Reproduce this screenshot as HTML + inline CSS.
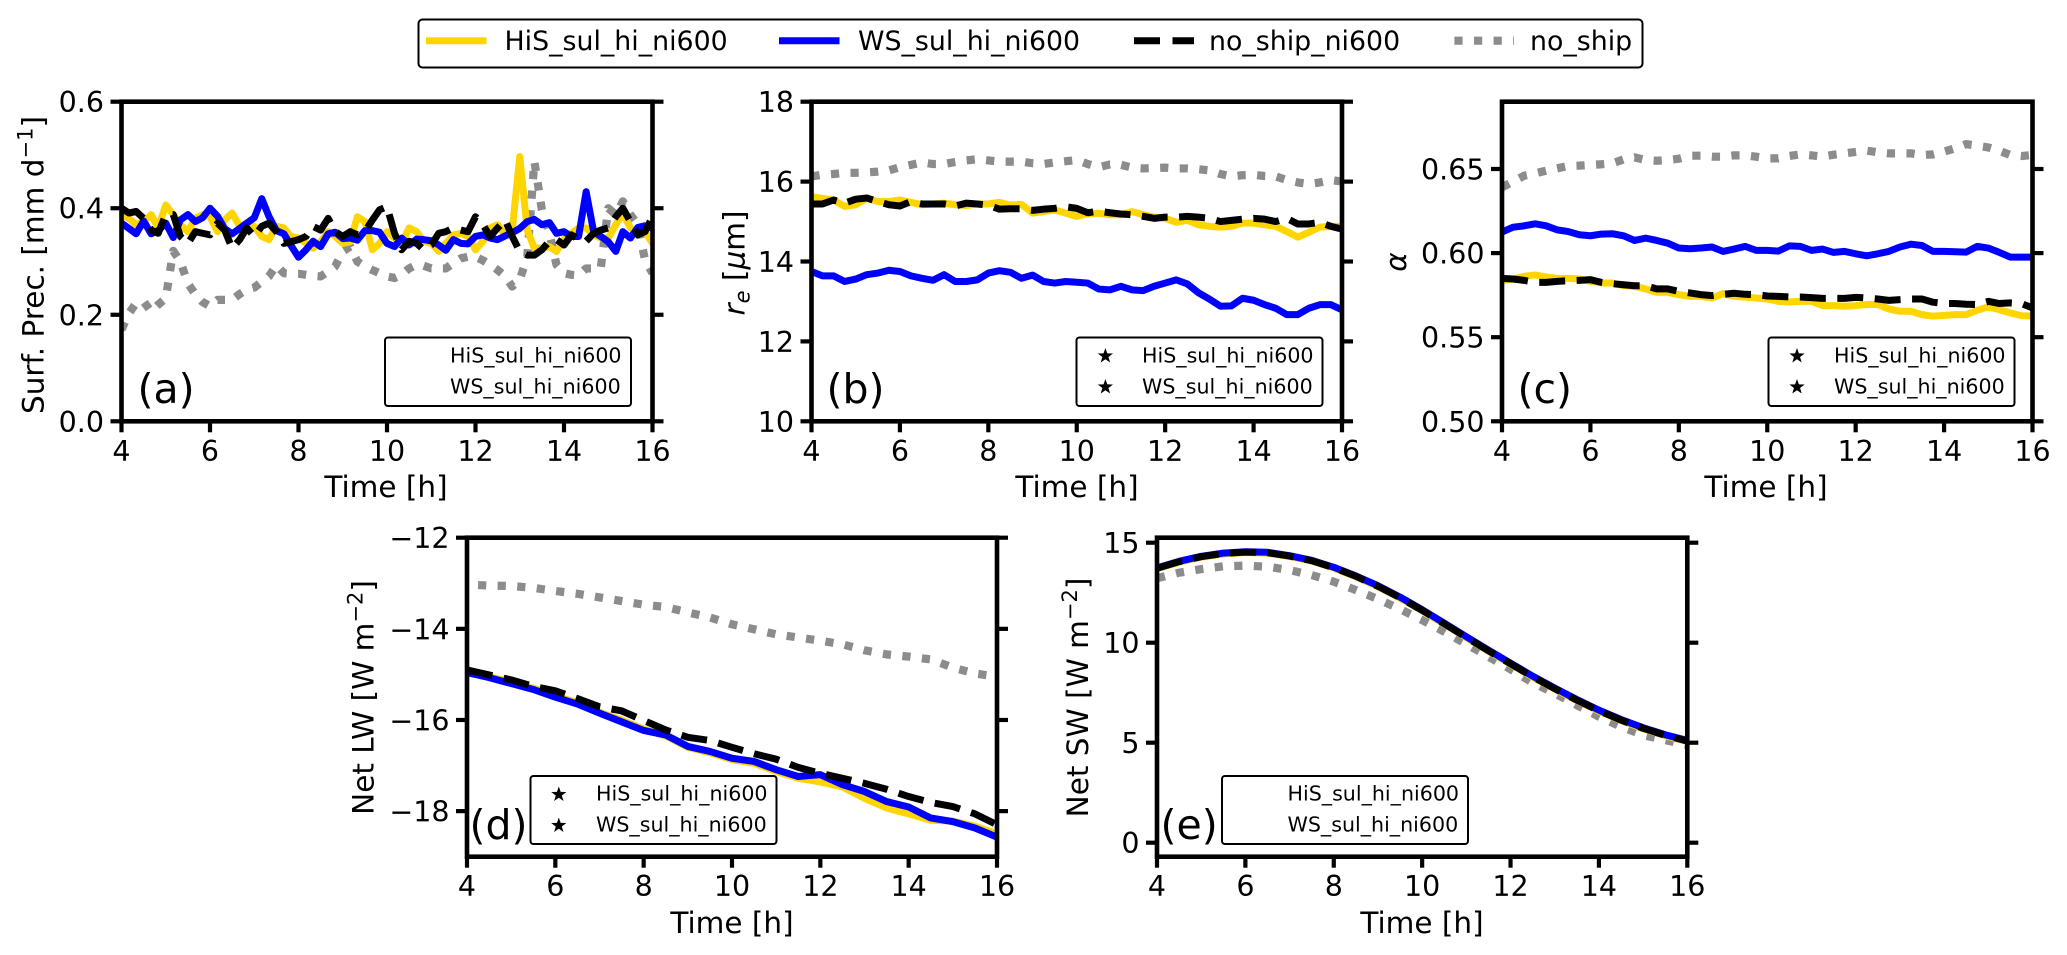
<!DOCTYPE html>
<html lang="en">
<head>
<meta charset="utf-8">
<title>Ship track time series</title>
<style>
html,body{margin:0;padding:0;background:#fff;}
svg{display:block;}
text{font-family:"DejaVu Sans","Liberation Sans",sans-serif;fill:#000;}
.tick{font-size:28.5px;}
.title{font-size:29.5px;}
.mainleg{font-size:26.8px;}
.subleg{font-size:20.6px;}
.letter{font-size:41px;}
.box{fill:#fff;stroke:#000;stroke-width:2;}
</style>
</head>
<body>
<svg id="figure" xmlns="http://www.w3.org/2000/svg" width="2067" height="955" viewBox="0 0 2067 955">
<rect x="0" y="0" width="2067" height="955" fill="#fff"/>
<g id="plots"></g>

<g>
<rect class="box" x="418.5" y="19.5" width="1224" height="48" rx="4"/>
<line x1="426" x2="486.5" y1="40.7" y2="40.7" stroke="#ffd500" stroke-width="7"/>
<text class="mainleg" x="504.5" y="50">HiS_sul_hi_ni600</text>
<line x1="779" x2="839.5" y1="40.7" y2="40.7" stroke="#0000ff" stroke-width="7"/>
<text class="mainleg" x="858" y="50">WS_sul_hi_ni600</text>
<line x1="1134" x2="1194" y1="40.7" y2="40.7" stroke="#000" stroke-width="7" stroke-dasharray="26 12.5"/>
<text class="mainleg" x="1209" y="50">no_ship_ni600</text>
<line x1="1454.4" x2="1514" y1="40.7" y2="40.7" stroke="#8c8c8c" stroke-width="8.2" stroke-dasharray="8.2 11.4"/>
<text class="mainleg" x="1530" y="50">no_ship</text>
</g>

<g>
<text class="title" x="386" y="497" text-anchor="middle">Time [h]</text>
<text class="title" x="1077" y="497" text-anchor="middle">Time [h]</text>
<text class="title" x="1766" y="497" text-anchor="middle">Time [h]</text>
<text class="title" x="732" y="933" text-anchor="middle">Time [h]</text>
<text class="title" x="1422" y="933" text-anchor="middle">Time [h]</text>

<text class="title" transform="translate(43.5 265) rotate(-90)" text-anchor="middle">Surf. Prec. [mm d<tspan dy="-11" font-size="21">−1</tspan><tspan dy="11">]</tspan></text>
<text class="title" transform="translate(744.5 263) rotate(-90)" text-anchor="middle"><tspan font-style="italic">r</tspan><tspan dy="5" font-size="21" font-style="italic">e</tspan><tspan dy="-5"> [</tspan><tspan font-style="italic">μ</tspan>m]</text>
<text class="title" transform="translate(1406 262) rotate(-90)" text-anchor="middle" font-style="italic">α</text>
<text class="title" transform="translate(373.5 697.5) rotate(-90)" text-anchor="middle">Net LW [W m<tspan dy="-11" font-size="21">−2</tspan><tspan dy="11">]</tspan></text>
<text class="title" transform="translate(1088 697.5) rotate(-90)" text-anchor="middle">Net SW [W m<tspan dy="-11" font-size="21">−2</tspan><tspan dy="11">]</tspan></text>
</g>

<g>
<text class="letter" x="137.5" y="403">(a)</text>
<text class="letter" x="826.5" y="403">(b)</text>
<text class="letter" x="1517.5" y="403">(c)</text>
<text class="letter" x="469.5" y="839">(d)</text>
<text class="letter" x="1160.5" y="839">(e)</text>
</g>

<g>
<rect class="box" x="385" y="337.5" width="246" height="68.5" rx="3"/>
<text class="subleg" x="450" y="362.3">HiS_sul_hi_ni600</text>
<text class="subleg" x="450" y="393.3">WS_sul_hi_ni600</text>
</g>
<g>
<rect class="box" x="1076.5" y="337.5" width="246" height="68.5" rx="3"/>
<polygon transform="translate(1105.4 356)" points="0,-8 1.88,-2.59 7.61,-2.47 3.04,1 4.7,6.47 0,3.2 -4.7,6.47 -3.04,1 -7.61,-2.47 -1.88,-2.59"/>
<polygon transform="translate(1105.4 387)" points="0,-8 1.88,-2.59 7.61,-2.47 3.04,1 4.7,6.47 0,3.2 -4.7,6.47 -3.04,1 -7.61,-2.47 -1.88,-2.59"/>
<text class="subleg" x="1142" y="362.3">HiS_sul_hi_ni600</text>
<text class="subleg" x="1142" y="393.3">WS_sul_hi_ni600</text>
</g>
<g>
<rect class="box" x="1768.5" y="337.5" width="246" height="68.5" rx="3"/>
<polygon transform="translate(1797 356)" points="0,-8 1.88,-2.59 7.61,-2.47 3.04,1 4.7,6.47 0,3.2 -4.7,6.47 -3.04,1 -7.61,-2.47 -1.88,-2.59"/>
<polygon transform="translate(1797 387)" points="0,-8 1.88,-2.59 7.61,-2.47 3.04,1 4.7,6.47 0,3.2 -4.7,6.47 -3.04,1 -7.61,-2.47 -1.88,-2.59"/>
<text class="subleg" x="1834" y="362.3">HiS_sul_hi_ni600</text>
<text class="subleg" x="1834" y="393.3">WS_sul_hi_ni600</text>
</g>
<g>
<rect class="box" x="530.5" y="776" width="246" height="68" rx="3"/>
<polygon transform="translate(558.8 794.5)" points="0,-8 1.88,-2.59 7.61,-2.47 3.04,1 4.7,6.47 0,3.2 -4.7,6.47 -3.04,1 -7.61,-2.47 -1.88,-2.59"/>
<polygon transform="translate(558.8 825.5)" points="0,-8 1.88,-2.59 7.61,-2.47 3.04,1 4.7,6.47 0,3.2 -4.7,6.47 -3.04,1 -7.61,-2.47 -1.88,-2.59"/>
<text class="subleg" x="596" y="800.5">HiS_sul_hi_ni600</text>
<text class="subleg" x="596" y="831.5">WS_sul_hi_ni600</text>
</g>
<g>
<rect class="box" x="1222" y="776" width="246" height="68" rx="3"/>
<text class="subleg" x="1287.5" y="800.5">HiS_sul_hi_ni600</text>
<text class="subleg" x="1287.5" y="831.5">WS_sul_hi_ni600</text>
</g>
</svg>

<script>
// Shared time grids (hours)
const timesSixth = [4,4.17,4.33,4.5,4.67,4.83,5,5.17,5.33,5.5,5.67,5.83,6,6.17,6.33,6.5,6.67,6.83,7,7.17,7.33,7.5,7.67,7.83,8,8.17,8.33,8.5,8.67,8.83,9,9.17,9.33,9.5,9.67,9.83,10,10.17,10.33,10.5,10.67,10.83,11,11.17,11.33,11.5,11.67,11.83,12,12.17,12.33,12.5,12.67,12.83,13,13.17,13.33,13.5,13.67,13.83,14,14.17,14.33,14.5,14.67,14.83,15,15.17,15.33,15.5,15.67,15.83,16];
const timesQuarter = [4,4.25,4.5,4.75,5,5.25,5.5,5.75,6,6.25,6.5,6.75,7,7.25,7.5,7.75,8,8.25,8.5,8.75,9,9.25,9.5,9.75,10,10.25,10.5,10.75,11,11.25,11.5,11.75,12,12.25,12.5,12.75,13,13.25,13.5,13.75,14,14.25,14.5,14.75,15,15.25,15.5,15.75,16];
const timesHalf = [4,4.5,5,5.5,6,6.5,7,7.5,8,8.5,9,9.5,10,10.5,11,11.5,12,12.5,13,13.5,14,14.5,15,15.5,16];
const timesHalfLate = [4.25,4.5,5,5.5,6,6.5,7,7.5,8,8.5,9,9.5,10,10.5,11,11.5,12,12.5,13,13.5,14,14.5,15,15.5,16];

// Tick values and labels
const xTickValues = [4,6,8,10,12,14,16];
const xTickLabels = ["4","6","8","10","12","14","16"];
const yTicksA = [0,0.2,0.4,0.6];
const yLabelsA = ["0.0","0.2","0.4","0.6"];
const yTicksB = [10,12,14,16,18];
const yLabelsB = ["10","12","14","16","18"];
const yTicksC = [0.5,0.55,0.6,0.65];
const yLabelsC = ["0.50","0.55","0.60","0.65"];
const yTicksD = [-18,-16,-14,-12];
const yLabelsD = ["−18","−16","−14","−12"];
const yTicksE = [0,5,10,15];
const yLabelsE = ["0","5","10","15"];

// Panel (a) Surface precipitation
const hisA = [.388,.381,.369,.375,.388,.363,.406,.388,.369,.356,.381,.388,.384,.356,.378,.391,.366,.372,.366,.347,.341,.366,.363,.347,.344,.334,.325,.337,.356,.347,.334,.337,.384,.375,.322,.334,
.356,.344,.334,.363,.356,.338,.334,.319,.334,.35,.353,.347,.322,.338,.363,.369,.35,.359,.497,.359,.325,.325,.328,.319,.341,.353,.363,.363,.35,.344,.344,.369,.391,.363,.353,.356,.334];
const wsA = [.372,.362,.352,.376,.352,.358,.372,.345,.378,.388,.375,.382,.40,.385,.362,.352,.362,.372,.382,.418,.385,.358,.352,.33,.308,.322,.338,.328,.352,.355,.343,.344,.34,.358,.358,.355,
.334,.328,.344,.331,.342,.341,.339,.331,.321,.341,.334,.333,.347,.35,.344,.341,.348,.354,.362,.375,.379,.369,.373,.353,.356,.347,.347,.431,.356,.347,.337,.319,.356,.344,.364,.367,.362];
const noShipNiA = [.40,.391,.394,.381,.359,.353,.388,.388,.347,.334,.356,.353,.35,.372,.359,.325,.341,.363,.347,.366,.372,.356,.334,.337,.341,.347,.366,.359,.381,.356,.347,.356,.35,.356,.378,.397,
.403,.353,.322,.338,.334,.322,.331,.353,.356,.363,.359,.356,.384,.369,.347,.363,.378,.347,.319,.312,.312,.322,.338,.341,.331,.35,.341,.338,.353,.359,.363,.384,.40,.375,.35,.356,.384];
const noShipA = [.172,.203,.222,.225,.206,.219,.231,.32,.30,.259,.238,.224,.216,.228,.228,.228,.239,.247,.251,.262,.272,.293,.278,.277,.277,.275,.273,.272,.281,.291,.319,.328,.30,.291,.284,.278,
.272,.269,.275,.287,.294,.292,.287,.287,.287,.297,.306,.309,.309,.302,.294,.284,.272,.253,.266,.309,.488,.397,.353,.294,.278,.275,.274,.287,.287,.287,.40,.388,.413,.388,.369,.303,.278];

// Panel (b) Effective radius
const hisB = [15.62,15.58,15.54,15.38,15.42,15.58,15.5,15.5,15.54,15.48,15.42,15.44,15.46,15.42,15.4,15.44,15.44,15.48,15.41,15.43,15.21,15.25,15.29,15.21,15.13,15.19,15.21,15.17,15.17,15.25,15.17,15.11,15.08,14.98,15.03,14.92,14.88,14.86,14.88,14.96,14.96,14.92,14.88,14.75,14.61,14.73,14.86,14.88,14.88];
const wsB = [13.75,13.64,13.64,13.5,13.56,13.67,13.71,13.78,13.75,13.64,13.58,13.53,13.67,13.5,13.5,13.54,13.71,13.77,13.73,13.58,13.66,13.5,13.46,13.5,13.48,13.46,13.31,13.29,13.38,13.29,13.27,13.38,13.46,13.54,13.44,13.22,13.06,12.88,12.89,13.08,13.03,12.92,12.83,12.67,12.67,12.83,12.92,12.92,12.79];
const noShipNiB = [15.44,15.44,15.54,15.46,15.56,15.59,15.5,15.42,15.39,15.5,15.44,15.44,15.44,15.39,15.46,15.44,15.41,15.31,15.32,15.32,15.28,15.31,15.33,15.37,15.33,15.22,15.26,15.22,15.19,15.17,15.13,15.08,15.11,15.11,15.13,15.11,15.08,15,15.03,15.06,15.08,15.06,15,15.08,14.94,14.94,14.98,14.88,14.81];
const noShipB = [16.13,16.17,16.19,16.22,16.22,16.23,16.25,16.28,16.36,16.42,16.48,16.44,16.44,16.49,16.53,16.56,16.53,16.5,16.5,16.5,16.46,16.44,16.48,16.51,16.54,16.44,16.36,16.43,16.42,16.35,16.33,16.34,16.35,16.33,16.33,16.31,16.28,16.19,16.13,16.16,16.17,16.14,16.13,16.04,15.98,15.94,15.98,16.04,16];

// Panel (c) Albedo
const hisC = [.5838,.5846,.5862,.587,.5858,.585,.585,.5846,.5832,.5822,.5822,.5806,.5802,.5787,.5767,.5767,.5753,.5743,.5743,.5733,.5759,.5743,.5739,.5733,.5727,.5713,.5709,.5713,.5713,.5688,.5688,.5684,.5688,.5694,.5694,.5668,.5654,.5654,.5634,.5625,.563,.5634,.5634,.566,.568,.5664,.5644,.5628,.5625];
const wsC = [.6125,.6154,.6162,.6174,.6162,.6138,.6128,.6109,.6103,.6113,.6115,.6103,.6075,.6089,.6075,.6059,.603,.6026,.603,.6036,.601,.6024,.604,.6016,.6016,.6012,.6043,.604,.6016,.6024,.6004,.601,.5996,.5984,.5996,.601,.6036,.6053,.6045,.601,.601,.6008,.6006,.604,.603,.6004,.5976,.5976,.5976];
const noShipNiC = [.585,.5846,.5838,.5826,.5826,.5832,.5836,.5838,.5842,.5826,.5818,.5812,.5806,.5806,.5787,.5787,.5773,.5763,.5753,.5747,.5755,.5761,.5755,.5753,.5745,.5743,.5739,.5739,.5735,.5731,.5731,.5731,.5737,.5733,.5727,.5719,.5723,.5727,.5727,.5708,.57,.57,.5696,.5694,.5713,.57,.5704,.57,.5674];
const noShipC = [.6391,.6425,.646,.6474,.649,.6504,.6518,.652,.6524,.6528,.6534,.6557,.6569,.6553,.6549,.6553,.6561,.6579,.6579,.6573,.6573,.6581,.6581,.6573,.6563,.6563,.6577,.6587,.6581,.6573,.6585,.6593,.6601,.6609,.6599,.6593,.6593,.6593,.6583,.6587,.6603,.6623,.6648,.6638,.6628,.6609,.6583,.6577,.6583];

// Panel (d) Net longwave
const hisD = [-14.97,-15.05,-15.17,-15.3,-15.48,-15.62,-15.83,-16,-16.2,-16.35,-16.6,-16.72,-16.87,-16.95,-17.13,-17.28,-17.36,-17.47,-17.72,-17.93,-18.06,-18.2,-18.22,-18.33,-18.5];
const wsD = [-14.96,-15.07,-15.2,-15.33,-15.5,-15.65,-15.85,-16.04,-16.23,-16.33,-16.58,-16.69,-16.84,-16.91,-17.09,-17.24,-17.2,-17.42,-17.57,-17.79,-17.91,-18.15,-18.23,-18.37,-18.57];
const noShipNiD = [-14.9,-15.01,-15.12,-15.26,-15.36,-15.53,-15.71,-15.8,-16.01,-16.22,-16.38,-16.45,-16.6,-16.74,-16.86,-17.04,-17.17,-17.28,-17.39,-17.52,-17.68,-17.81,-17.9,-18.06,-18.3];
const noShipD = [-13.04,-13.05,-13.06,-13.1,-13.17,-13.23,-13.31,-13.39,-13.47,-13.52,-13.64,-13.75,-13.9,-14.01,-14.12,-14.19,-14.26,-14.34,-14.47,-14.56,-14.61,-14.67,-14.85,-14.98,-15.05];

// Panel (e) Net shortwave
const hisE = [13.7,14.03,14.28,14.44,14.51,14.48,14.31,14.08,13.73,13.3,12.8,12.23,11.6,10.93,10.25,9.58,8.93,8.28,7.68,7.11,6.58,6.11,5.7,5.35,5.06];
const wsE = [13.74,14.07,14.32,14.48,14.55,14.52,14.35,14.12,13.77,13.34,12.85,12.28,11.65,10.98,10.3,9.63,8.98,8.33,7.73,7.16,6.63,6.16,5.75,5.4,5.11];
const noShipNiE = [13.72,14.05,14.3,14.46,14.53,14.5,14.33,14.1,13.75,13.32,12.82,12.25,11.62,10.95,10.27,9.6,8.95,8.3,7.7,7.13,6.6,6.13,5.72,5.37,5.08];
const noShipE = [13.22,13.5,13.68,13.82,13.85,13.8,13.63,13.38,13.05,12.63,12.18,11.68,11.13,10.55,9.93,9.3,8.67,8,7.47,6.88,6.3,5.8,5.38,5.13,4.88];

const NS = 'http://www.w3.org/2000/svg';
const plots = document.getElementById('plots');

function make(tag, parent) {
  const node = document.createElementNS(NS, tag);
  parent.appendChild(node);
  return node;
}

function makeAxes(id, box, xDomain, yDomain, yTicks, yLabels) {
  const g = make('g', plots);
  
  
  const clip = make('clipPath', g);
  clip.setAttribute('id', 'clip-' + id);
  const clipRect = make('rect', clip);
  clipRect.setAttribute('x', box.left);
  clipRect.setAttribute('y', box.top);
  clipRect.setAttribute('width', box.right - box.left);
  clipRect.setAttribute('height', box.bottom - box.top);
  const layer = make('g', g);
  layer.setAttribute('clip-path', 'url(#clip-' + id + ')');
  
  
  const xScale = v => box.left + (v - xDomain[0]) / (xDomain[1] - xDomain[0]) * (box.right - box.left);
  const yScale = v => box.bottom - (v - yDomain[0]) / (yDomain[1] - yDomain[0]) * (box.bottom - box.top);
  return { id, g, layer, box, xScale, yScale, yTicks, yLabels };
}

function drawSeries(axes, name, times, values, color, width, dash) {
  const path = make('path', axes.layer);
  let d = '';
  const n = Math.min(times.length, values.length);
  for (let i = 0; i < n; i++) {
    d += (i ? 'L' : 'M') + axes.xScale(times[i]).toFixed(2) + ' ' + axes.yScale(values[i]).toFixed(2);
  }
  path.setAttribute('d', d);
  path.setAttribute('fill', 'none');
  path.setAttribute('stroke', color);
  path.setAttribute('stroke-width', width);
  path.setAttribute('stroke-linejoin', 'round');
  if (dash) path.setAttribute('stroke-dasharray', dash);
  
  
}

function drawAll(axes, times, his, ws, noShipNi, noShip, grayTimes) {
  drawSeries(axes, 'no-ship', grayTimes || times, noShip, '#8c8c8c', 8.2, '8.2 11.4');
  drawSeries(axes, 'his-sul-hi-ni600', times, his, '#ffd500', 7);
  drawSeries(axes, 'ws-sul-hi-ni600', times, ws, '#0000ff', 7);
  drawSeries(axes, 'no-ship-ni600', times, noShipNi, '#000000', 7, '26 11.5');
}

function drawFrame(axes) {
  const b = axes.box;
  const frame = make('rect', axes.g);
  frame.setAttribute('x', b.left);
  frame.setAttribute('y', b.top);
  frame.setAttribute('width', b.right - b.left);
  frame.setAttribute('height', b.bottom - b.top);
  frame.setAttribute('fill', 'none');
  frame.setAttribute('stroke', '#000');
  frame.setAttribute('stroke-width', '4.6');
  
  

  xTickValues.forEach((v, i) => {
    const x = axes.xScale(v);
    const tick = make('line', axes.g);
    tick.setAttribute('x1', x);
    tick.setAttribute('x2', x);
    tick.setAttribute('y1', b.bottom);
    tick.setAttribute('y2', b.bottom + 11);
    tick.setAttribute('stroke', '#000');
    tick.setAttribute('stroke-width', '4.2');
    
    
    const label = make('text', axes.g);
    label.setAttribute('class', 'tick');
    label.setAttribute('x', x);
    label.setAttribute('y', b.bottom + 39.5);
    label.setAttribute('text-anchor', 'middle');
    
    
    label.textContent = xTickLabels[i];
  });

  axes.yTicks.forEach((v, i) => {
    const y = axes.yScale(v);
    const tickL = make('line', axes.g);
    tickL.setAttribute('x1', b.left - 11);
    tickL.setAttribute('x2', b.left);
    tickL.setAttribute('y1', y);
    tickL.setAttribute('y2', y);
    tickL.setAttribute('stroke', '#000');
    tickL.setAttribute('stroke-width', '4.2');
    
    
    const tickR = make('line', axes.g);
    tickR.setAttribute('x1', b.right);
    tickR.setAttribute('x2', b.right + 11);
    tickR.setAttribute('y1', y);
    tickR.setAttribute('y2', y);
    tickR.setAttribute('stroke', '#000');
    tickR.setAttribute('stroke-width', '4.2');
    
    
    const label = make('text', axes.g);
    label.setAttribute('class', 'tick');
    label.setAttribute('x', b.left - 17.5);
    label.setAttribute('y', y + 10.5);
    label.setAttribute('text-anchor', 'end');
    
    
    label.textContent = axes.yLabels[i];
  });
}

const axA = makeAxes('a', {left:121.5, right:652.5, top:101.7, bottom:421.3}, [4,16], [0,0.6], yTicksA, yLabelsA);
drawAll(axA, timesSixth, hisA, wsA, noShipNiA, noShipA);
drawFrame(axA);

const axB = makeAxes('b', {left:811.5, right:1342, top:101.7, bottom:421.3}, [4,16], [10,18], yTicksB, yLabelsB);
drawAll(axB, timesQuarter, hisB, wsB, noShipNiB, noShipB);
drawFrame(axB);

const axC = makeAxes('c', {left:1502, right:2032.5, top:101.7, bottom:421.3}, [4,16], [0.5,0.69], yTicksC, yLabelsC);
drawAll(axC, timesQuarter, hisC, wsC, noShipNiC, noShipC);
drawFrame(axC);

const axD = makeAxes('d', {left:467, right:997, top:537.7, bottom:856.7}, [4,16], [-19,-12], yTicksD, yLabelsD);
drawAll(axD, timesHalf, hisD, wsD, noShipNiD, noShipD, timesHalfLate);
drawFrame(axD);

const axE = makeAxes('e', {left:1157, right:1687.3, top:537.7, bottom:856.7}, [4,16], [-0.7,15.25], yTicksE, yLabelsE);
drawAll(axE, timesHalf, hisE, wsE, noShipNiE, noShipE);
drawFrame(axE);
</script>
</body>
</html>
